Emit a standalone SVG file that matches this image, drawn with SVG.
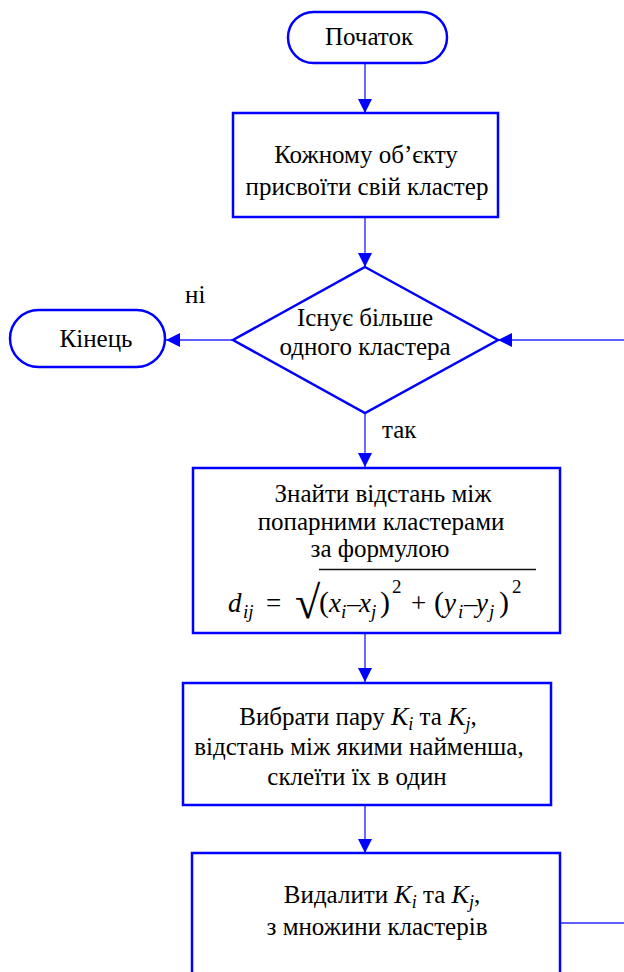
<svg xmlns="http://www.w3.org/2000/svg" width="624" height="972" viewBox="0 0 624 972">
<style>
.shape{fill:#fff;stroke:#0000ff;stroke-width:2.5}
.conn{fill:none;stroke:#2a2aff;stroke-width:1.4}
</style>
<defs>
<marker id="ah" markerUnits="userSpaceOnUse" markerWidth="14" markerHeight="14" refX="14" refY="7" orient="auto">
<path d="M0,0 L14,7 L0,14 z" fill="#0000ff"/>
</marker>
</defs>
<rect width="624" height="972" fill="#fff"/>
<g id="connectors">
<line class="conn" x1="365" y1="63" x2="365" y2="113" marker-end="url(#ah)"/>
<line class="conn" x1="365" y1="217" x2="365" y2="267" marker-end="url(#ah)"/>
<line class="conn" x1="233" y1="340" x2="166" y2="340" marker-end="url(#ah)"/>
<line class="conn" x1="365" y1="413" x2="365" y2="467" marker-end="url(#ah)"/>
<line class="conn" x1="365" y1="633" x2="365" y2="682" marker-end="url(#ah)"/>
<line class="conn" x1="365" y1="805" x2="365" y2="853" marker-end="url(#ah)"/>
<path class="conn" d="M560,923 H650 V340 H498" marker-end="url(#ah)"/>
<text font-family="Liberation Serif" font-size="25" x="185" y="303">ні</text>
<text font-family="Liberation Serif" font-size="25" x="382" y="438">так</text>
</g>
<g id="start">
<rect class="shape" x="288" y="12" width="159" height="51" rx="25.5"/>
<text font-family="Liberation Serif" font-size="25" text-anchor="middle" x="369" y="45">Початок</text>
</g>
<g id="init">
<rect class="shape" x="233" y="113" width="265" height="104"/>
<text font-family="Liberation Serif" font-size="25" text-anchor="middle" x="366" y="163">Кожному об’єкту</text>
<text font-family="Liberation Serif" font-size="25" text-anchor="middle" x="367" y="195">присвоїти свій кластер</text>
</g>
<g id="cond">
<polygon class="shape" points="365,267 498,340 365,413 233,340"/>
<text font-family="Liberation Serif" font-size="25" text-anchor="middle" x="365" y="326">Існує більше</text>
<text font-family="Liberation Serif" font-size="25" text-anchor="middle" x="365" y="355">одного кластера</text>
</g>
<g id="end">
<rect class="shape" x="10" y="310" width="155" height="57" rx="28.5"/>
<text font-family="Liberation Serif" font-size="25" text-anchor="middle" x="96" y="347">Кінець</text>
</g>
<g id="distance">
<rect class="shape" x="193" y="468" width="367" height="165"/>
<text font-family="Liberation Serif" font-size="25" text-anchor="middle" x="383" y="502">Знайти відстань між</text>
<text font-family="Liberation Serif" font-size="25" text-anchor="middle" x="381" y="530">попарними кластерами</text>
<text font-family="Liberation Serif" font-size="25" text-anchor="middle" x="380" y="557">за формулою</text>
<line x1="319" y1="569.5" x2="536" y2="569.5" stroke="#111" stroke-width="1.6"/>
<text font-family="Liberation Serif" font-size="27"><tspan font-style="italic" x="228" y="612">d</tspan><tspan font-style="italic" font-size="19" x="243" y="618">ij</tspan><tspan x="266" y="612">=</tspan><tspan font-size="46" x="295" y="618">√</tspan><tspan font-size="30" x="319" y="612">(</tspan><tspan font-style="italic" x="329" y="612">x</tspan><tspan font-style="italic" font-size="19" x="341" y="618">i</tspan><tspan x="347" y="612">–</tspan><tspan font-style="italic" x="359" y="612">x</tspan><tspan font-style="italic" font-size="19" x="371" y="618">j</tspan><tspan font-size="30" x="380" y="612">)</tspan><tspan font-size="19" x="392" y="593">2</tspan><tspan x="411" y="612">+</tspan><tspan font-size="30" x="434" y="612">(</tspan><tspan font-style="italic" x="444" y="612">y</tspan><tspan font-style="italic" font-size="19" x="458" y="618">i</tspan><tspan x="464" y="612">–</tspan><tspan font-style="italic" x="476" y="612">y</tspan><tspan font-style="italic" font-size="19" x="489" y="618">j</tspan><tspan font-size="30" x="499" y="612">)</tspan><tspan font-size="19" x="512" y="593">2</tspan></text>
</g>
<g id="merge">
<rect class="shape" x="183" y="683" width="368" height="122"/>
<text font-family="Liberation Serif" font-size="25" text-anchor="middle" x="358" y="725">Вибрати пару <tspan font-style="italic" font-size="26">K</tspan><tspan font-style="italic" font-size="18" dy="5">i</tspan><tspan dy="-5"> та </tspan><tspan font-style="italic" font-size="26">K</tspan><tspan font-style="italic" font-size="18" dy="5">j</tspan><tspan dy="-5">,</tspan></text>
<text font-family="Liberation Serif" font-size="25" text-anchor="middle" x="359" y="755">відстань між якими найменша,</text>
<text font-family="Liberation Serif" font-size="25" text-anchor="middle" x="357" y="785">склеїти їх в один</text>
</g>
<g id="remove">
<rect class="shape" x="192" y="853" width="368" height="140"/>
<text font-family="Liberation Serif" font-size="25" text-anchor="middle" x="382" y="903">Видалити <tspan font-style="italic" font-size="26">K</tspan><tspan font-style="italic" font-size="18" dy="5">i</tspan><tspan dy="-5"> та </tspan><tspan font-style="italic" font-size="26">K</tspan><tspan font-style="italic" font-size="18" dy="5">j</tspan><tspan dy="-5">,</tspan></text>
<text font-family="Liberation Serif" font-size="25" text-anchor="middle" x="377" y="935">з множини кластерів</text>
</g>
</svg>
